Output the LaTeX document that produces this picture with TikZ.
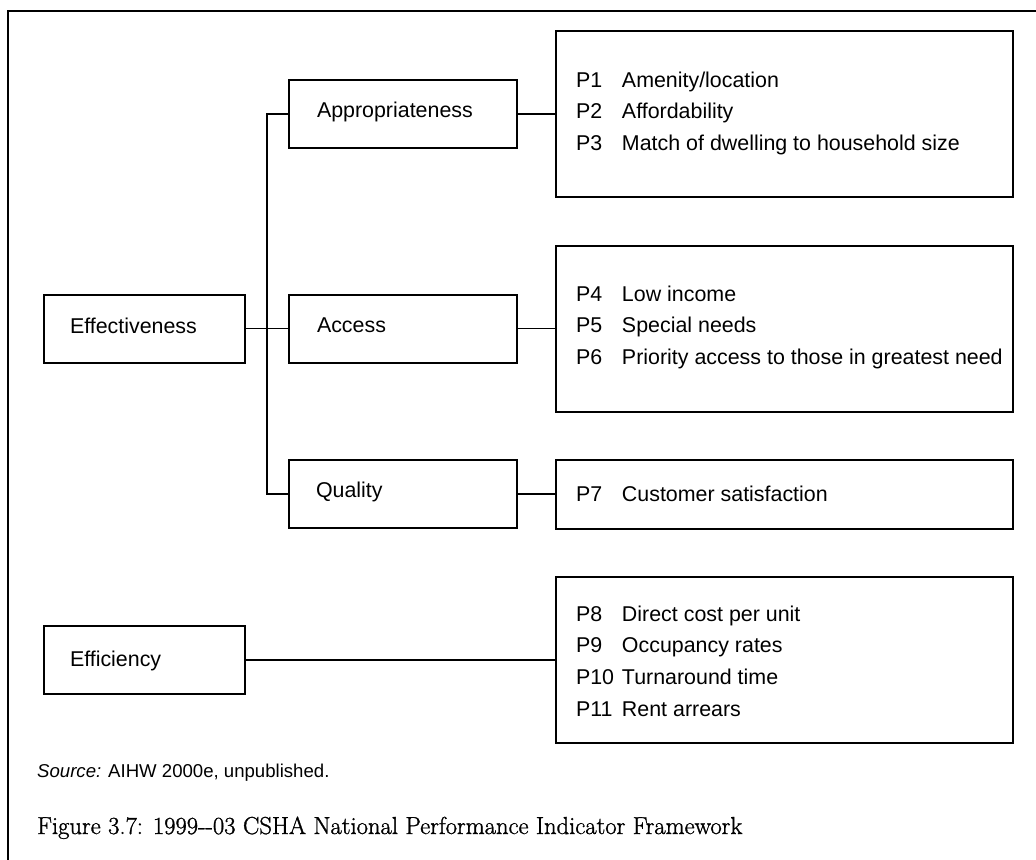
\documentclass[tikz,border=0pt]{standalone}
\usepackage{fontspec}
\newfontfamily\arial{Liberation Sans}
\newfontfamily\capfont[FakeBold=1.2]{Latin Modern Roman}
\begin{document}
\begin{tikzpicture}[x=1bp,y=-1bp,
  box/.style={draw, line width=2bp, inner sep=0pt, outer sep=0pt},
  smallbox/.style={box, minimum width=228bp, minimum height=68bp},
  sidebox/.style={box, minimum width=201bp, minimum height=68bp},
  listbox/.style={box, minimum width=457bp, minimum height=166bp},
  link/.style={line width=1.8bp},
  lbl/.style={anchor=base west, inner sep=0pt, outer sep=0pt,
    font=\arial\fontsize{21.4bp}{31.7bp}\selectfont},
]
\useasboundingbox (0,0) rectangle (1036,860);
\clip (0,0) rectangle (1036,860);

% outer frame (runs off the page on the right and bottom)
\draw[line width=2bp] (8,870) -- (8,11) -- (1045,11);

% left column
\node[sidebox] (effbox) at (144.5,328.5) {};
\node[sidebox] (efcbox) at (144.5,660) {};
\node[lbl] (efftext) at (70,333) {Effectiveness};
\node[lbl] (efctext) at (70,666) {Efficiency};

% middle column
\node[smallbox] (appbox) at (403,114) {};
\node[smallbox] (accbox) at (403,328.5) {};
\node[smallbox] (qualbox) at (403,494) {};
\node[lbl] (apptext) at (317,117) {Appropriateness};
\node[lbl] (acctext) at (317,332) {Access};
\node[lbl] (qualtext) at (316,497) {Quality};

% indicator lists
\node[listbox] (p1box) at (784.5,114) {};
\node[listbox] (p4box) at (784.5,328.5) {};
\node[box, minimum width=457bp, minimum height=69bp] (p7box) at (784.5,494) {};
\node[listbox] (p8box) at (784.5,660) {};

\newcommand{\pid}[1]{\makebox[46bp][l]{#1}}
\node[lbl] (p1list) at (576,87) {\begin{tabular}[t]{@{}l@{}l@{}}
  \pid{P1} & Amenity/location\\
  \pid{P2} & Affordability\\
  \pid{P3} & Match of dwelling to household size
\end{tabular}};
\node[lbl] (p4list) at (576,301) {\begin{tabular}[t]{@{}l@{}l@{}}
  \pid{P4} & Low income\\
  \pid{P5} & Special needs\\
  \pid{P6} & Priority access to those in greatest need
\end{tabular}};
\node[lbl] (p7list) at (576,501) {\begin{tabular}[t]{@{}l@{}l@{}}
  \pid{P7} & Customer satisfaction
\end{tabular}};
\node[lbl] (p8list) at (576,621) {\begin{tabular}[t]{@{}l@{}l@{}}
  \pid{P8} & Direct cost per unit\\
  \pid{P9} & Occupancy rates\\
  \pid{P10} & Turnaround time\\
  \pid{P11} & Rent arrears
\end{tabular}};

% connectors
\coordinate (bus) at (267,0);
\draw[link] (effbox.east) -- (accbox.west);
\draw[link] (appbox.west) -- (appbox.west -| bus) -- (qualbox.west -| bus) -- (qualbox.west);
\draw[link] (appbox.east) -- (p1box.west);
\draw[link] (accbox.east) -- (p4box.west);
\draw[link] (qualbox.east) -- (p7box.west);
\draw[link] (efcbox.east) -- (p8box.west);

% source note and caption
\node[anchor=base west, inner sep=0pt, font=\arial\fontsize{18.6bp}{22bp}\selectfont]
  (source) at (37,777) {\textit{Source:} AIHW 2000e, unpublished.};
\node[anchor=base west, inner sep=0pt, font=\capfont\fontsize{24.6bp}{30bp}\selectfont]
  (caption) at (37,834) {Figure 3.7: 1999--03 CSHA National Performance Indicator Framework};
\end{tikzpicture}
\end{document}
